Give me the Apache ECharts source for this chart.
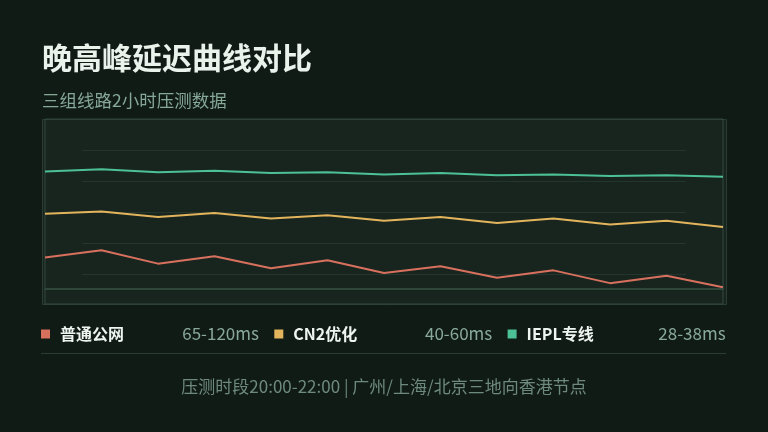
<!DOCTYPE html>
<html>
<head>
<meta charset="utf-8">
<script src="https://cdn.jsdelivr.net/npm/echarts@6/dist/echarts.min.js"></script>
<style>
  html, body { margin: 0; padding: 0; background: #111b16; }
  #chart { width: 768px; height: 432px; }
</style>
</head>
<body>
<div id="chart"></div>
<script>
// 20:00 - 22:00, every 10 minutes
const times = ['20:00', '20:10', '20:20', '20:30', '20:40', '20:50', '21:00',
               '21:10', '21:20', '21:30', '21:40', '21:50', '22:00'];

const lineNames = ['普通公网', 'CN2优化', 'IEPL专线'];
const lineRanges = ['65-120ms', '40-60ms', '28-38ms'];
const lineColors = ['#d8705e', '#e2b45c', '#4dc196'];

// latency in ms
const publicNet = [76, 65, 85, 74, 92, 80, 99, 89, 106, 95, 114, 103, 120];
const cn2 = [43, 40, 47, 42, 49, 45, 52, 47, 55, 49, 57, 52, 60];
const iepl = [31, 28, 32, 30, 33, 32, 35, 33, 36, 35, 37, 36, 38];

// each line gets its own band (hidden axes, low latency on top)
const bands = [
    { min: -130, max: 145 },
    { min: -80, max: 160 },
    { min: -40, max: 210 }
];

const title = '晚高峰延迟曲线对比';
const subtitle = '三组线路2小时压测数据';
const footer = '压测时段20:00-22:00 | 广州/上海/北京三地向香港节点';

const FONT = '"Noto Sans CJK SC", "Noto Sans", sans-serif';

let chart = echarts.init(document.getElementById('chart'));

// legend row built from the arrays
let legendItems = [];
const colStart = 41, colStep = 233.3, colWidth = 218;
lineNames.forEach((name, i) => {
    let x = colStart + colStep * i;
    legendItems.push({
        type: 'rect',
        shape: { x: x, y: 329.5, width: 9, height: 9 },
        style: { fill: lineColors[i] }
    });
    legendItems.push({
        type: 'text',
        style: {
            text: name, x: x + 19, y: 334,
            fill: '#eef4ef', font: 'bold 16px ' + FONT,
            textVerticalAlign: 'middle'
        }
    });
    legendItems.push({
        type: 'text',
        style: {
            text: lineRanges[i], x: x + colWidth, y: 334,
            fill: '#88a99a', font: '17px ' + FONT,
            textAlign: 'right', textVerticalAlign: 'middle'
        }
    });
});

let option = {
    backgroundColor: '#111b16',
    animation: false,
    graphic: [
        {
            type: 'rect',
            z: -10,
            shape: { x: 42.5, y: 119.5, width: 684, height: 185 },
            style: { fill: '#18251f', stroke: '#2b3c34', lineWidth: 1 }
        },
        {
            type: 'text',
            style: {
                text: title, x: 42, y: 58,
                fill: '#eaf2ec', font: 'bold 30px ' + FONT,
                textVerticalAlign: 'middle'
            }
        },
        {
            type: 'text',
            style: {
                text: subtitle, x: 42, y: 100,
                fill: '#86a898', font: '17.5px ' + FONT,
                textVerticalAlign: 'middle'
            }
        },
        {
            type: 'line',
            shape: { x1: 41, y1: 353.5, x2: 726, y2: 353.5 },
            style: { stroke: '#2a3b33', lineWidth: 1 }
        },
        {
            type: 'text',
            style: {
                text: footer, x: 384, y: 387,
                fill: '#6d8a7c', font: '17px ' + FONT,
                textAlign: 'center', textVerticalAlign: 'middle'
            }
        }
    ].concat(legendItems),
    grid: [
        {
            left: 45, right: 45, top: 119, bottom: 128,
            show: true, borderColor: '#33493f', borderWidth: 1,
            backgroundColor: 'transparent'
        },
        {
            left: 82, right: 82, top: 150, bottom: 158
        }
    ],
    xAxis: [
        {
            type: 'category',
            gridIndex: 0,
            data: times,
            boundaryGap: false,
            offset: -15,
            axisLine: { onZero: false, lineStyle: { color: '#2f463b', width: 2 } },
            axisTick: { show: false },
            axisLabel: { show: false },
            splitLine: { show: false }
        },
        {
            type: 'value',
            gridIndex: 1,
            show: false
        }
    ],
    yAxis: bands.map(b => ({
        type: 'value',
        gridIndex: 0,
        show: false,
        inverse: true,
        min: b.min,
        max: b.max
    })).concat([{
        type: 'value',
        gridIndex: 1,
        min: 0,
        max: 4,
        interval: 1,
        axisLine: { show: false },
        axisTick: { show: false },
        axisLabel: { show: false },
        splitLine: { lineStyle: { color: '#23352c', width: 1 } }
    }]),
    series: [publicNet, cn2, iepl].map((values, i) => ({
        name: lineNames[i],
        type: 'line',
        xAxisIndex: 0,
        yAxisIndex: i,
        showSymbol: false,
        lineStyle: { color: lineColors[i], width: 2 },
        itemStyle: { color: lineColors[i] },
        data: values
    }))
};

chart.setOption(option);
</script>
</body>
</html>
